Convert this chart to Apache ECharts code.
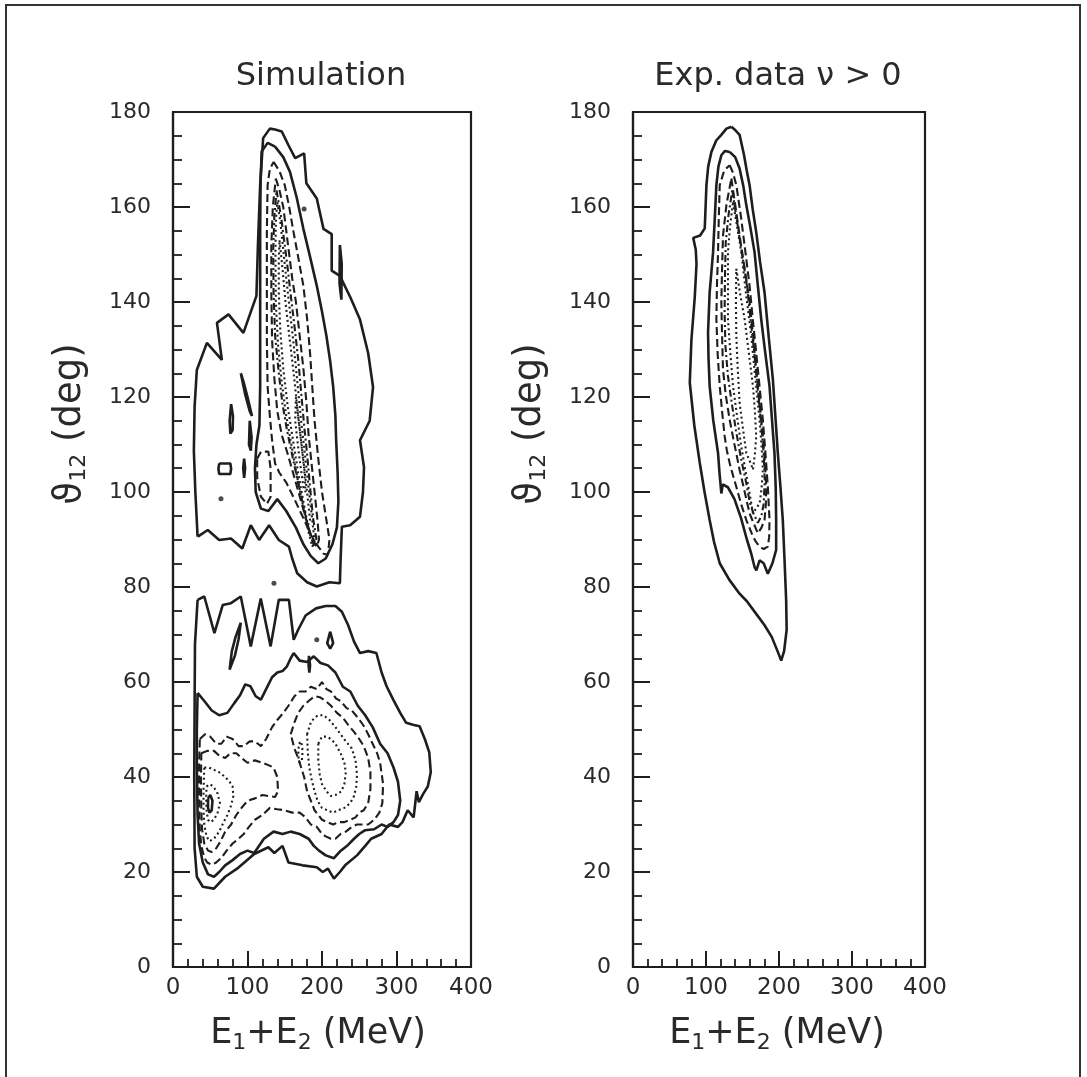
<!DOCTYPE html>
<html><head><meta charset="utf-8">
<script src="https://cdn.jsdelivr.net/npm/echarts@6/dist/echarts.min.js"></script>
<style>html,body{margin:0;padding:0;background:#fff}#c{width:1087px;height:1077px}</style>
</head><body><div id="c"></div>
<script>
// ---------- axis ranges / text ----------
const xRange = [0, 400];   // E1+E2 (MeV)
const yRange = [0, 180];   // theta12 (deg)
const panelTitles = ['Simulation', 'Exp. data \u03bd > 0'];

// ---------- Simulation panel contours [E (MeV), theta (deg)] ----------
const simOuterUpper = [[33,90.6],[30,100],[28,108.7],[29,118],[32,125.7],[45.5,131.4],[65.6,127.8],[59,135.6],[74.5,137.4],[94.5,133.5],[112,141.3],[114,152],[117,164.6],[121,174.5],[130,176.5],[137,176.3],[146,175.9],[155,173],[164,170.3],[176,171.3],[179,165],[193,161.8],[202,155.4],[213,154.3],[213,146.6],[224,145.5],[238,141],[251,136.3],[262,129.2],[268.5,122.1],[264,115],[251,110.9],[256.4,105.2],[255,100],[251,94.8],[237.8,93],[226.7,92.7],[225,86],[224,80.8],[210,81],[193,80.1],[180,81],[166.7,82.9],[160,86],[155.6,88.5],[142,89.9],[129,93],[115.6,89.9],[104.4,93],[93,88.1],[77.8,90.2],[62,89.9],[46.7,92],[33.3,90.6]];
const simSpikeIsland = [[224,152],[226.5,148],[226,140.5],[223.5,144]];
const simLeafA = [[91,125],[95,123],[100,120],[106,116],[103,117],[97,120.5]];
const simLeafB = [[78,118.5],[80.5,116],[80,113],[77,112.3],[76,115]];
const simLeafC = [[103,115],[105.5,111.5],[104.5,108.7],[102,110]];
const simRoundRect = [[62,106],[77,106],[78,104.9],[77,103.8],[62,103.8],[61,104.9]];
const simOval = [[95.5,107],[96.8,105],[95.5,103],[94.2,105]];
const simSmallDashLoop = [[113,107],[118,108.5],[128,108.5],[131,105],[131,99],[126,97.5],[118,99],[113,103]];
const simUpper2 = [[137,172.7],[148,170.5],[157,167.4],[166,162],[175,155.4],[184,149.5],[193,143.4],[200,138],[206,132.8],[211,127.5],[215,122.2],[218,116],[219,110.9],[221,104],[222,98],[220,92.5],[214,89],[205,86],[195,85],[185,86.5],[175,89],[165,92.5],[152,96],[140,98.5],[128,96],[118,96.5],[111,100],[110,105],[112,110],[116,114],[117,122.2],[117,132],[117,143.4],[117,155],[117.5,165],[119,171.7],[127,173.5]];
const simUpper3 = [[135,169.5],[143,167.5],[150,164.6],[156,160],[161,155.4],[168,149.5],[175,143.4],[180,136.5],[184,129.2],[187,122],[190,115],[195,107],[200,100],[206,94],[210,90],[208,86.8],[202,87],[195,88.5],[185,91],[175,94.5],[163,98.5],[152,102],[143,104],[137,106],[133,110.9],[130,116],[127,122.2],[126,132],[126,143.4],[126,155],[127,164.6],[130,168]];
const simUpper4 = [[138,166],[143,163.5],[148,160],[152,155],[156,150],[160,145],[165,140],[170,133],[175,126],[179,119],[182,112],[186,106],[190,100],[194,94],[196,90],[193,88.5],[187,90],[180,93.5],[172,98],[163,103],[154,108],[146,112],[140,117],[136,124],[133,132],[132,142],[132,152],[134,160]];
const simUpper45 = [[139,163.5],[145,158],[150,152],[154,147],[158,141.5],[163,135],[168,128],[172,121],[176,114],[180,108],[184,101],[188,94.5],[193,89.5],[190,88.5],[184,91],[178,95],[170,100.5],[161,107],[153,113],[147,118.5],[142,125],[137,133],[135,142],[134.5,151],[136,158]];
const simUpper5 = [[140,161],[144,157],[148,151],[152,145],[157,138],[162,131],[167,123],[172,115],[177,108],[182,101],[187,94],[190,89.5],[187,88.5],[182,91.5],[176,96],[168,102],[160,109],[152,116],[146,123],[141,131],[138,140],[137.5,150],[138,157]];
const simUpper6 = [[143,153],[147,147],[151,140],[156,133],[162,125],[168,116],[174,108],[180,100],[184,94],[181,93],[175,98],[168,104],[161,111],[154,118],[148,126],[144,134],[142,142],[142,149]];
const simUpper7 = [[165,120],[171,112],[176,105],[178,100],[175,101],[169,108],[164,115]];
const simOuterLower = [[33,77.3],[42,78],[55.6,70.3],[66.7,76.2],[77.8,76.6],[91,78],[104.4,67.5],[117.8,77.6],[131,67.5],[142,77.3],[155.6,77.3],[162,68.9],[168,71],[178,74],[192,75.5],[205,76],[218,76],[226.7,74.8],[235,72],[243,68.5],[251,66.1],[262,66.5],[273,66.1],[280,62],[286.7,59.1],[295.6,56.3],[305,53.5],[313,51.4],[322,51],[331,50.7],[338,48],[344,45.2],[346,41],[342,38],[336,36.5],[330,34.7],[327,37],[323,31.5],[315,33],[308,30.5],[302,29.5],[290,30],[280,28],[266,27],[258,25.5],[247,23.5],[231,21.4],[224,20],[216,18.6],[208,20.7],[201,20],[193,21],[174,21.4],[155,22],[147,25.5],[136,24],[128,25.2],[109,23.8],[86,20.7],[70,19],[55,16.5],[40,16.9],[32,19],[29,25],[28.5,40],[29,55],[29.5,68]];
const simMidSpike = [[91,72.5],[88,69],[83,65.5],[76,62.6],[79,66.5],[84,69.5]];
const simMidDiamond = [[211,70.6],[215,68.2],[211,67],[207,68.2]];
const simMidDash = [[182.5,65.5],[184,63.5],[183,62],[182,63.5]];
const simLower2 = [[33,57.7],[42,56],[52,54],[62,53],[73,53.5],[82,55.5],[90,57.2],[97,59.5],[104,59.1],[111,57],[118,56.3],[125,58.5],[133,61],[140,62],[147,62.3],[153,63.3],[158,65],[162,66.1],[170,64.5],[180,64.2],[189,65.4],[198,64],[208,63.5],[218,62],[228,59],[238,58],[248,55],[258,53],[268,50.5],[278,47],[288,45],[296,42],[302,39],[305,35],[302,32],[296,30.5],[288,29.5],[280,30],[270,29],[258,28.8],[250,28],[243,27],[235,25.7],[224,24.3],[216,22.9],[205,23.5],[196,24.5],[189,25.5],[182,27],[170,28],[158,28.5],[147,28],[135,28.5],[122,27],[109,24],[100,24.5],[90,23.8],[80,22.5],[70,21.4],[62,20],[55,19],[47,19.5],[40,22],[35,26],[33,32],[32,42],[32,50]];
const simLower3 = [[36,48],[43,49],[50,48.5],[58,47],[65,47],[72,48.5],[80,48],[88,46.5],[95,46.5],[103,47.5],[110,47.5],[118,46.5],[125,48],[133,50.5],[140,52],[148,53.5],[155,55],[163,57],[170,58],[178,58],[185,59],[193,58.5],[200,60],[206,58.5],[212,58],[219,56.5],[225,56],[233,54.5],[240,54],[248,52.5],[255,51],[262,49],[268,47],[274,45],[278,43],[282,38.5],[281,34.5],[277,32.5],[270,31],[262,30],[255,30],[247,30],[240,29.5],[232,28.5],[225,28],[218,27],[212,27],[205,27.5],[200,28],[193,29.5],[185,30],[178,31.5],[170,32.5],[160,32.5],[150,33],[140,33.2],[130,33.5],[120,32],[110,31],[102,29.5],[95,28],[88,27],[80,26],[72,24.5],[65,23],[58,22],[52,21.5],[46,22],[42,23],[38,25.5],[36,29],[35,35],[35,42]];
const simLower4L = [[38,45],[46,45.5],[55,45.5],[62,44.5],[70,44],[77,45],[85,45],[92,44],[100,43],[110,43.5],[120,43],[128,42.5],[135,42],[140,40],[141,37],[137,35.8],[128,36],[120,36.2],[110,35.5],[100,35],[92,33.5],[85,32],[78,30],[70,28.5],[64,26.5],[58,25],[52,24.2],[47,24.5],[42,26],[39,29],[38,33],[37.5,39]];
const simLower4R = [[158,49],[163,51.5],[168,53.5],[175,55],[182,56],[190,57],[197,56.8],[205,56],[212,55],[220,53.5],[228,52.5],[235,51],[243,49.5],[250,48],[256,46.5],[262,44],[265,41],[265,37.5],[262,34.5],[256,33],[250,32.5],[245,31.5],[238,31],[230,30.5],[222,30.5],[215,30],[207,30.5],[200,31],[195,32],[190,33],[185,35],[180,37],[176,40],[172,42],[168,44],[163,46]];
const simLower5L = [[42,42],[48,42],[55,41.5],[62,41],[70,40],[76,39],[80,38],[81,36],[78,34],[73,32],[68,30.5],[62,28.5],[55,27],[49,26.5],[45,27.5],[42,30],[41,33],[41,37]];
const simLower5R = [[180,49],[185,51.5],[190,52.5],[195,53],[202,53],[210,52],[218,50.5],[225,49],[232,47.5],[240,46],[245,43.5],[247,40.5],[246,38],[243,36],[238,34.5],[230,33.5],[222,33],[215,32.5],[207,33],[200,33.5],[194,35],[190,37],[186,39.5],[183,42],[181,45]];
const simLower6L = [[45,38],[50,38.5],[55,37.8],[60,36.5],[63,34.5],[60,32.5],[55,31],[50,30.5],[47,31],[45,33],[44.5,35.5]];
const simLower6R = [[195,47],[200,48.5],[206,48.5],[212,48],[218,47],[225,45],[230,43],[232,41],[230,38.5],[226,37],[220,36.3],[212,36],[206,37],[200,38.5],[197,40.5],[195,43.5]];
const simLower7L = [[47,35.5],[50,36.2],[53,35],[52,33],[49,32.5],[47,33.5]];
const simLowerSmall = [[169,47],[172,47.5],[174,45.5],[173,43.5],[170,43],[168,44.5]];
const simDots = [[64.4,98.6],[135.5,80.8],[193,68.9],[176,159.6]];

// ---------- Experimental panel contours [E (MeV), theta (deg)] ----------
const expOuter = [[134.7,176.9],[140,176.2],[146,175.2],[152,171],[156,167.5],[159.7,164.6],[164,159.5],[168.8,154.7],[174,148.5],[180.2,142],[186,132.5],[191.6,123.7],[195,116],[198.4,108.2],[202,101],[205.2,94.1],[207.5,86],[209.8,77.2],[210.5,71],[207,66.5],[203,64.5],[198,66.5],[190,69.5],[180,72],[168,74.5],[156,77],[146,78.6],[132,81.5],[118.8,85],[111,89.5],[105,94.1],[98,100],[91.5,106.1],[84,114],[77.8,123],[80,132],[84.6,141],[87,148],[86,151],[82.5,153.5],[92,154],[98.3,155.5],[100.6,164.6],[103,168.5],[107.4,171.6],[114,174],[121,175.2],[128,176.5]];
const expLevel2 = [[132.4,171.6],[140,170.5],[146,168.1],[151,164.5],[155.2,160.4],[161,155.5],[166.5,150.5],[171,143.5],[175.6,136.4],[181,129.5],[187,122.3],[190.5,115],[193.8,108.2],[195.5,101],[196.1,94.1],[196.1,87.8],[191,85],[184.7,82.8],[179,85],[173.4,85.6],[169,83.5],[166.5,84.2],[162,87],[156,90],[148,94.5],[139,98.5],[130,101],[123,101.6],[121,99.7],[118.5,104],[116.5,108.2],[110,115],[105,122.3],[103.5,128],[102.8,133.6],[105,142],[109.7,150.5],[112,157.5],[114.2,164.6],[117,168.5],[121,170.9],[126,171.8]];
const expLevel3 = [[132.4,168.8],[137,167.2],[141.5,164.6],[145,161],[148.3,157.5],[154,150.5],[159.7,143.4],[164,136.5],[168.8,129.3],[173.5,122],[177.9,115.2],[181.5,108],[184.7,101.1],[187,94.1],[186.5,90.5],[184.7,88.5],[179,88],[173.4,88.5],[168.5,89.5],[164.3,90.6],[160,92.3],[155.2,94.1],[148,97.5],[141.5,101.1],[137,103.5],[132.4,106.1],[128.5,108.8],[125.6,111.7],[122,117],[118.8,122.3],[116,129],[114.2,136.4],[115,143.5],[116.5,150.5],[117.5,157.5],[118.8,164.6],[125,167.7]];
const expLevel4 = [[134.7,166],[140,160.5],[146,154],[153,147],[159.7,140],[164.5,133],[168.8,125.8],[173.5,118.7],[177.9,111.7],[180.5,106.5],[182.5,101.1],[182,97.5],[180.2,94.1],[176,92.5],[171.1,91.3],[165,93.5],[159.7,95.5],[153,100],[146,104.7],[139,110],[132.4,115.2],[127,120.5],[123.3,125.8],[122,133],[121,140],[122,147],[123.3,154],[128,160.5]];
const expLevel45 = [[136,163.5],[142,157.5],[148,151.5],[156,143.5],[161,136.5],[166,129.5],[171,121.5],[175.5,114.5],[179,108],[180.5,102.5],[179,97.5],[176,95],[171,93.5],[165,95.5],[160,97.8],[155,102],[148,107],[141,113],[135,119],[130,124.5],[126.5,131],[125.5,138],[126,145.5],[127,152.5],[131,158.5]];
const expLevel5 = [[137,161],[143,155.5],[148.3,150.5],[155,141.5],[162,132.9],[167.5,124],[173.4,115.2],[176,110],[177.9,104.7],[176,100.5],[173.4,97.6],[168.5,96.5],[164.3,95.5],[159.7,99.7],[154,104.5],[148.3,109.6],[142.5,116],[137,122.3],[133.5,129],[130.1,136.4],[130.1,143.5],[130.1,150.5],[133,156]];
const expLevel6 = [[141.5,147],[147,141.5],[152.9,136.4],[158.5,129.5],[164.3,122.3],[167,117],[168.8,111.7],[167,108],[164.3,104.7],[160,106.5],[155.2,108.2],[150.5,113.5],[146,118.8],[143.5,126],[141.5,132.9],[141,140]];

// ---------- styling ----------
const INK = '#1e1e1e';
const FONT = 'DejaVu Sans';
const DASH = { solid: 'solid', dashed: [8, 4], dotted: [2, 3], dashdot: [7, 3, 2, 3] };

function closed(a) { return a.concat([a[0]]); }
function contour(data, style, gi) {
  return {
    type: 'line', xAxisIndex: gi, yAxisIndex: gi, data: closed(data),
    showSymbol: false, symbol: 'none', silent: true, animation: false,
    lineStyle: { color: INK, width: style === 'solid' ? 2.6 : 2.1, type: DASH[style] }
  };
}

const simSet = [
  [simOuterUpper,'solid'],[simSpikeIsland,'solid'],[simLeafA,'solid'],[simLeafB,'solid'],[simLeafC,'solid'],
  [simRoundRect,'solid'],[simOval,'solid'],[simSmallDashLoop,'dashed'],
  [simUpper2,'solid'],[simUpper3,'dashed'],[simUpper4,'dashed'],[simUpper45,'dashdot'],[simUpper5,'dotted'],[simUpper6,'dotted'],[simUpper7,'dotted'],
  [simOuterLower,'solid'],[simMidSpike,'solid'],[simMidDiamond,'solid'],[simMidDash,'solid'],
  [simLower2,'solid'],[simLower3,'dashed'],[simLower4L,'dashed'],[simLower4R,'dashed'],
  [simLower5L,'dotted'],[simLower5R,'dotted'],[simLower6L,'dotted'],[simLower6R,'dotted'],[simLower7L,'solid'],[simLowerSmall,'dotted']
];
const expSet = [
  [expOuter,'solid'],[expLevel2,'solid'],[expLevel3,'dashed'],[expLevel4,'dashed'],[expLevel45,'dashdot'],[expLevel5,'dotted'],[expLevel6,'dotted']
];

const series = [];
simSet.forEach(c => series.push(contour(c[0], c[1], 0)));
expSet.forEach(c => series.push(contour(c[0], c[1], 1)));
series.push({ type: 'scatter', xAxisIndex: 0, yAxisIndex: 0, data: simDots, symbolSize: 5,
  itemStyle: { color: INK }, silent: true, animation: false });

const grids = [
  { left: 173, top: 112, width: 298, height: 855 },
  { left: 633, top: 112, width: 292, height: 855 }
];

function xAx(gi) {
  return { gridIndex: gi, type: 'value', min: xRange[0], max: xRange[1], interval: 100,
    axisLine: { show: true, onZero: false, lineStyle: { color: INK, width: 2.2 } },
    axisTick: { show: true, inside: true, length: 16, lineStyle: { color: INK, width: 2 } },
    minorTick: { show: true, splitNumber: 5, length: 8, lineStyle: { color: INK, width: 1.8 } },
    axisLabel: { fontSize: 23, color: '#2a2a2a', margin: 10, fontFamily: FONT },
    splitLine: { show: false }, minorSplitLine: { show: false } };
}
function yAx(gi) {
  return { gridIndex: gi, type: 'value', min: yRange[0], max: yRange[1], interval: 20,
    axisLine: { show: true, onZero: false, lineStyle: { color: INK, width: 2.2 } },
    axisTick: { show: true, inside: true, length: 17, lineStyle: { color: INK, width: 2 } },
    minorTick: { show: true, splitNumber: 4, length: 9, lineStyle: { color: INK, width: 1.8 } },
    axisLabel: { fontSize: 22, color: '#2a2a2a', margin: 22, fontFamily: FONT },
    splitLine: { show: false }, minorSplitLine: { show: false } };
}

const subRich = {
  s: { fontSize: 22, fontFamily: FONT, fill: '#2a2a2a', padding: [18, 0, 0, 0] }
};
function txt(x, y, text, size, rot, rich) {
  return { type: 'text', x: x, y: y, rotation: rot || 0, silent: true,
    style: { text: text, fontSize: size, fontFamily: FONT, fill: '#2a2a2a', align: 'center', verticalAlign: 'middle', rich: rich } };
}

const graphic = [
  { type: 'rect', shape: { x: 6, y: 5, width: 1074, height: 1090 }, silent: true,
    style: { fill: 'none', stroke: '#333', lineWidth: 2 } },
  txt(321, 77, panelTitles[0], 32),
  txt(778, 77, panelTitles[1], 32),
  txt(318, 1034, 'E{s|1}+E{s|2} (MeV)', 35, 0, subRich),
  txt(777, 1034, 'E{s|1}+E{s|2} (MeV)', 35, 0, subRich),
  txt(70, 424, '\u03d1{s|12} (deg)', 37, Math.PI / 2, subRich),
  txt(530, 424, '\u03d1{s|12} (deg)', 37, Math.PI / 2, subRich)
];

const chart = echarts.init(document.getElementById('c'), null, { renderer: 'canvas' });
chart.setOption({
  backgroundColor: '#fff',
  animation: false,
  grid: grids.map(g => Object.assign({ show: true, borderColor: INK, borderWidth: 2.2, backgroundColor: 'transparent' }, g)),
  xAxis: [xAx(0), xAx(1)],
  yAxis: [yAx(0), yAx(1)],
  series: series,
  graphic: graphic
});
</script></body></html>
